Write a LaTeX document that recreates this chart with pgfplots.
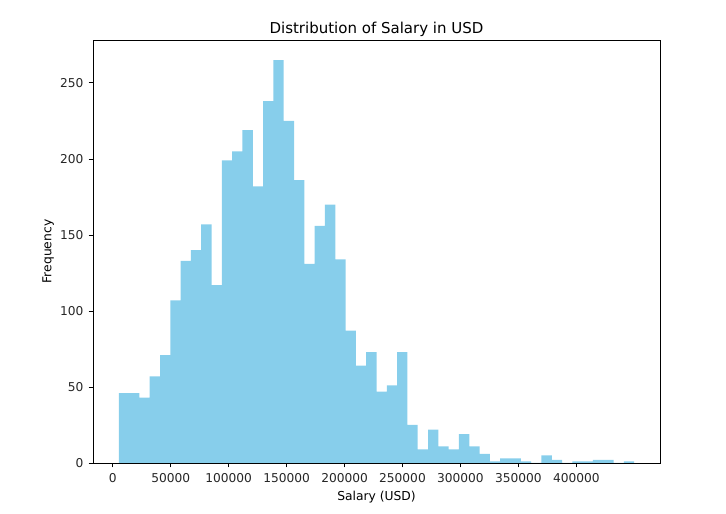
\documentclass[border=0pt]{standalone}
\usepackage{fontspec}
\setmainfont{DejaVu Sans}
\usepackage{pgfplots}
\pgfplotsset{compat=1.18}
\definecolor{skyblue}{RGB}{135,206,235}
\begin{document}
\begin{tikzpicture}[x=1pt,y=1pt]
\useasboundingbox (0,0) rectangle (726,514);
\begin{axis}[
  at={(93pt,51pt)}, anchor=south west,
  width=567pt, height=423pt, scale only axis,
  xmin=-17111, xmax=472243, ymin=0, ymax=278.25,
  xtick={0,50000,100000,150000,200000,250000,300000,350000,400000},
  ytick={0,50,100,150,200,250},
  scaled x ticks=false, scaled y ticks=false,
  /pgf/number format/fixed, /pgf/number format/1000 sep={},
  /pgf/number format/assume math mode=true,
  tick align=outside, tick pos=left,
  major tick length=4.3pt,
  every tick/.style={black, line width=0.9pt},
  axis line style={black, line width=0.9pt},
  tick label style={font=\fontsize{12.2}{14}\selectfont, text=black!85},
  xticklabel style={anchor=base, yshift=-15pt},
  yticklabel style={anchor=east, xshift=-1.8pt},
  title={Distribution of Salary in USD},
  title style={at={(axis description cs:0.5,1.0149)}, anchor=base, yshift=-6pt, font=\fontsize{15}{18}\selectfont},
  xlabel={Salary (USD)},
  xlabel style={at={(axis description cs:0.5,-0.0875)}, anchor=base, font=\fontsize{12.3}{14}\selectfont},
  ylabel={Frequency},
  ylabel style={at={(axis description cs:-0.0732,0.5)}, anchor=base, font=\fontsize{12.3}{14}\selectfont},
  axis on top,
]
\addplot[ybar interval, fill=skyblue, draw=none] coordinates {
(5132,46) (14029.36,46) (22926.72,43) (31824.08,57) (40721.44,71)
(49618.8,107) (58516.16,133) (67413.52,140) (76310.88,157) (85208.24,117)
(94105.6,199) (103002.96,205) (111900.32,219) (120797.68,182) (129695.04,238)
(138592.4,265) (147489.76,225) (156387.12,186) (165284.48,131) (174181.84,156)
(183079.2,170) (191976.56,134) (200873.92,87) (209771.28,64) (218668.64,73)
(227566,47) (236463.36,51) (245360.72,73) (254258.08,25) (263155.44,9)
(272052.8,22) (280950.16,11) (289847.52,9) (298744.88,19) (307642.24,11)
(316539.6,6) (325436.96,1) (334334.32,3) (343231.68,3) (352129.04,1)
(361026.4,0) (369923.76,5) (378821.12,2) (387718.48,0) (396615.84,1)
(405513.2,1) (414410.56,2) (423307.92,2) (432205.28,0) (441102.64,1)
(450000,1)
};
\end{axis}
\end{tikzpicture}
\end{document}
